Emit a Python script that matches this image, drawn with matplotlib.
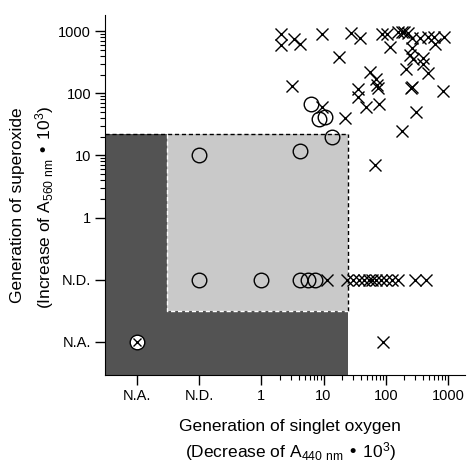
import numpy as np
import matplotlib.pyplot as plt
from matplotlib.patches import Rectangle

plt.rcParams['font.family'] = ['Liberation Sans', 'DejaVu Sans']
plt.rcParams['mathtext.default'] = 'regular'

ND = 'N.D.'
NA = 'N.A.'

# open circles
circle_x = [ND, 4.2, 13.8, 6.2, 8.5, 10.5, ND, 1, 4.2, 5.6, 7.3]
circle_y = [10, 11.8, 20, 67, 38, 42, ND, ND, ND, ND, ND]

# crosses (both detected)
cross_x = [2.1, 2.1, 3.3, 4.2, 9.4, 28, 38, 18, 86, 103, 117, 160, 180, 200,
           230, 260, 355, 480, 590, 620, 860, 260, 245, 275, 400, 400, 480,
           215, 56, 71, 72, 76, 36, 36, 49, 78, 260, 255, 840, 3.1, 9.4, 22,
           310, 180, 67,
           11.5, 24, 30, 37, 45, 53, 61, 70, 85, 100, 125, 160, 300, 450,
           91]
cross_y = [900, 600, 750, 630, 900, 920, 790, 390, 910, 890, 560, 970, 980, 970,
           920, 790, 790, 810, 800, 620, 815, 530, 410, 360, 370, 300, 210,
           250, 220, 170, 135, 120, 116, 88, 61, 67, 125, 120, 108, 130, 61, 40,
           50, 25, 7,
           ND, ND, ND, ND, ND, ND, ND, ND, ND, ND, ND, ND, ND, ND,
           NA]

# circle with cross
both_x = [NA]
both_y = [NA]

tick_vals = [NA, ND, 1, 10, 100, 1000]
tick_text = ['N.A.', 'N.D.', '1', '10', '100', '1000']

# shaded zones (x limit, y limit of "detected" region)
zone_x = [ND, 25]
zone_y = [ND, 22]


def pos(v):
    if v == NA:
        return -2.0
    if v == ND:
        return -1.0
    return np.log10(v)


def conv(vals):
    return np.array([pos(v) for v in vals])


fig = plt.figure(figsize=(4.69, 4.68), dpi=100)
ax = fig.add_axes([0.224, 0.199, 0.767, 0.769])
xmin, xmax = -2.51, 3.27
ymin, ymax = -2.53, 3.26

zx0, zx1 = pos(zone_x[0]) - 0.51, pos(zone_x[1])
zy0, zy1 = pos(zone_y[0]) - 0.51, pos(zone_y[1])

ax.add_patch(Rectangle((xmin, ymin), zx1 - xmin, zy1 - ymin,
                       facecolor='#535353', edgecolor='none', zorder=0))
ax.add_patch(Rectangle((zx0, zy0), zx1 - zx0, zy1 - zy0,
                       facecolor='#c9c9c9', edgecolor='none', zorder=1))
ax.plot([xmin, zx1], [zy1, zy1], color='black', ls=(0, (3, 2)), lw=1, zorder=2)
ax.plot([zx1, zx1], [zy0, zy1], color='black', ls=(0, (3, 2)), lw=1, zorder=2)
ax.plot([zx0, zx0, zx1], [zy1, zy0, zy0], color='white', ls=(0, (3, 2)), lw=1, zorder=2)

ax.plot(conv(circle_x), conv(circle_y), 'o', mfc='none', mec='black',
        ms=10.5, mew=1.0, zorder=3)
ax.plot(conv(cross_x), conv(cross_y), 'x', color='black', ms=9.2, mew=1.0, zorder=3)
ax.plot(conv(both_x), conv(both_y), 'o', mfc='white', mec='black', ms=10.5, mew=1.0, zorder=3)
ax.plot(conv(both_x), conv(both_y), 'x', color='black', ms=6, mew=1.0, zorder=4)

ax.set_xlim(xmin, xmax)
ax.set_ylim(ymin, ymax)
ticks = conv(tick_vals)
minor = np.log10([m * 10 ** k for k in range(3) for m in range(2, 10)])
ax.set_xticks(ticks)
ax.set_xticklabels(tick_text)
ax.set_yticks(ticks)
ax.set_yticklabels(tick_text)
ax.set_xticks(minor, minor=True)
ax.set_yticks(minor, minor=True)
ax.tick_params(which='major', length=7, width=1, labelsize=10.5, pad=3)
ax.tick_params(which='minor', length=3.5, width=0.8)
ax.spines['top'].set_visible(False)
ax.spines['right'].set_visible(False)

fig.text(0.619, 1 - 426 / 468, 'Generation of singlet oxygen', ha='center',
         va='center', fontsize=12.5)
fig.text(0.619, 1 - 452 / 468, '(Decrease of A$_{440\\ nm}$ \u2022 10$^3$)',
         ha='center', va='center', fontsize=12.5)
fig.text(18 / 469, 1 - 205 / 468, 'Generation of superoxide', rotation=90,
         ha='center', va='center', fontsize=12.5)
fig.text(45 / 469, 1 - 207 / 468, '(Increase of A$_{560\\ nm}$ \u2022 10$^3$)',
         rotation=90, ha='center', va='center', fontsize=12.5)

fig.savefig('out.png', dpi=100)
